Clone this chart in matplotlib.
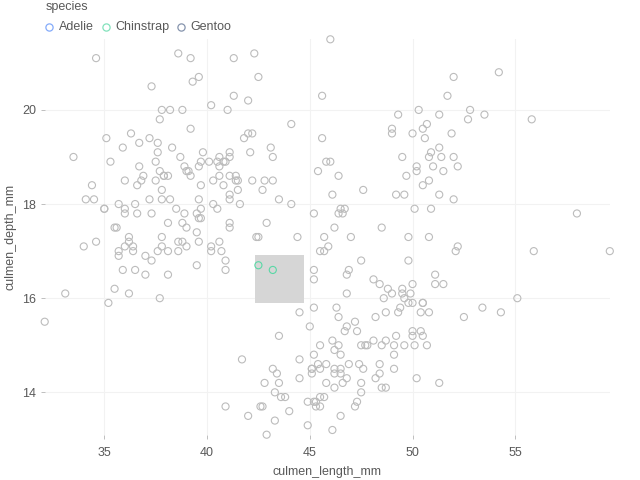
import matplotlib
matplotlib.use("Agg")
from matplotlib import pyplot as plt
from matplotlib.lines import Line2D
from matplotlib.patches import Rectangle

# culmen length / depth per species (penguins)
adelie_length = [39.1, 39.5, 40.3, 36.7, 39.3, 38.9, 39.2, 34.1, 42.0, 37.8, 37.8, 41.1, 38.6, 34.6, 36.6,
                 38.7, 42.5, 34.4, 46.0, 37.8, 37.7, 35.9, 38.2, 38.8, 35.3, 40.6, 40.5, 37.9, 40.5, 39.5,
                 37.2, 39.5, 40.9, 36.4, 39.2, 38.8, 42.2, 37.6, 39.8, 36.5, 40.8, 36.0, 44.1, 37.0, 39.6,
                 41.1, 37.5, 36.0, 42.3, 39.6, 40.1, 35.0, 42.0, 34.5, 41.4, 39.0, 40.6, 36.5, 37.6, 35.7,
                 41.3, 37.6, 41.1, 36.4, 41.6, 35.5, 41.1, 35.9, 41.8, 33.5, 39.7, 39.6, 45.8, 35.5, 42.8,
                 40.9, 37.2, 36.2, 42.1, 34.6, 42.9, 36.7, 35.1, 37.3, 41.3, 36.3, 36.9, 38.3, 38.9, 35.7,
                 41.1, 34.0, 39.6, 36.2, 40.8, 38.1, 40.3, 33.1, 43.2, 35.0, 41.0, 37.7, 37.8, 37.9, 39.7,
                 38.6, 38.2, 38.1, 43.2, 38.1, 45.6, 39.7, 42.2, 39.6, 42.7, 38.6, 37.3, 35.7, 41.1, 36.2,
                 37.7, 40.2, 41.4, 35.2, 40.6, 38.8, 41.5, 39.0, 44.1, 38.5, 43.1, 36.8, 37.5, 38.1, 41.1,
                 35.6, 40.2, 37.0, 39.7, 40.2, 40.6, 32.1, 40.7, 37.3, 39.0, 39.2, 36.6, 36.0, 37.8, 36.0,
                 41.5]
adelie_depth = [18.7, 17.4, 18.0, 19.3, 20.6, 17.8, 19.6, 18.1, 20.2, 17.1, 17.3, 17.6, 21.2, 21.1, 17.8,
                19.0, 20.7, 18.4, 21.5, 18.3, 18.7, 19.2, 18.1, 17.2, 18.9, 18.6, 17.9, 18.6, 18.9, 16.7,
                18.1, 17.8, 18.9, 17.0, 21.1, 20.0, 18.5, 19.3, 19.1, 18.0, 18.4, 18.5, 19.7, 16.9, 18.8,
                19.0, 18.9, 17.9, 21.2, 17.7, 18.9, 17.9, 19.5, 18.1, 18.6, 17.5, 18.8, 16.6, 19.1, 16.9,
                21.1, 17.0, 18.2, 17.1, 18.0, 16.2, 19.1, 16.6, 19.4, 19.0, 18.4, 17.2, 18.9, 17.5, 18.5,
                16.8, 19.4, 16.1, 19.1, 17.2, 17.6, 18.8, 19.4, 17.8, 20.3, 19.5, 18.6, 19.2, 18.8, 18.0,
                18.1, 17.1, 18.1, 17.3, 18.9, 18.6, 18.5, 16.1, 18.5, 17.9, 20.0, 16.0, 20.0, 18.6, 18.9,
                17.2, 20.0, 17.0, 19.0, 16.5, 20.3, 17.7, 19.5, 20.7, 18.3, 17.0, 20.5, 17.0, 18.6, 17.2,
                19.8, 17.0, 18.5, 15.9, 19.0, 17.6, 18.3, 17.1, 18.0, 17.9, 19.2, 18.5, 18.5, 17.6, 17.5,
                17.5, 20.1, 16.5, 17.9, 17.1, 17.2, 15.5, 17.0, 16.8, 18.7, 18.6, 18.4, 17.8, 18.1, 17.1,
                18.5]

chinstrap_length = [46.5, 50.0, 51.3, 45.4, 52.7, 45.2, 46.1, 51.3, 46.0, 51.3, 46.6, 51.7, 47.0, 52.0,
                    45.9, 50.5, 50.3, 58.0, 46.4, 49.2, 42.4, 48.5, 43.2, 50.6, 46.7, 52.0, 50.5, 49.5,
                    46.4, 52.8, 40.9, 54.2, 42.5, 51.0, 49.7, 47.5, 47.6, 52.0, 46.9, 53.5, 49.0, 46.2,
                    50.9, 45.5, 50.9, 50.8, 50.1, 49.0, 51.5, 49.8, 48.1, 51.4, 45.7, 50.7, 42.5, 52.2,
                    45.2, 49.3, 50.2, 45.6, 51.9, 46.8, 45.7, 55.8, 43.5, 49.6, 50.8, 50.2]
chinstrap_depth = [17.9, 19.5, 19.2, 18.7, 19.8, 17.8, 18.2, 18.2, 18.9, 19.9, 17.8, 20.3, 17.3, 18.1,
                   17.1, 19.6, 20.0, 17.8, 18.6, 18.2, 17.3, 17.5, 16.6, 19.4, 17.9, 19.0, 18.4, 19.0,
                   17.8, 20.0, 16.6, 20.8, 16.7, 18.8, 18.6, 16.8, 18.3, 20.7, 16.6, 19.9, 19.5, 17.5,
                   19.1, 17.0, 17.9, 18.5, 17.9, 19.6, 18.7, 17.3, 16.4, 19.0, 17.3, 19.7, 17.3, 18.8,
                   16.6, 19.9, 18.8, 19.4, 19.5, 16.5, 17.0, 19.8, 18.1, 18.2, 19.0, 18.7]

gentoo_length = [46.1, 50.0, 48.7, 50.0, 47.6, 46.5, 45.4, 46.7, 43.3, 46.8, 40.9, 49.0, 45.5, 48.4, 45.8,
                 49.3, 42.0, 49.2, 46.2, 48.7, 50.2, 45.1, 46.5, 46.3, 42.9, 46.1, 44.5, 47.8, 48.2, 50.0,
                 47.3, 42.8, 45.1, 59.6, 49.1, 48.4, 42.6, 44.4, 44.0, 48.7, 42.7, 49.6, 45.3, 49.6, 50.5,
                 43.6, 45.5, 50.5, 44.9, 45.2, 46.6, 48.5, 45.1, 50.1, 46.5, 45.0, 43.8, 45.5, 43.2, 50.4,
                 45.3, 46.2, 45.7, 54.3, 45.8, 49.8, 46.2, 49.5, 43.5, 50.7, 47.7, 46.4, 48.2, 46.5, 46.4,
                 48.6, 47.5, 51.1, 45.2, 45.2, 49.1, 52.5, 47.4, 50.0, 44.9, 50.8, 43.4, 51.3, 47.5, 52.1,
                 47.5, 52.2, 45.5, 49.5, 44.5, 50.8, 49.4, 46.9, 48.4, 51.1, 48.5, 55.9, 47.2, 49.1, 47.3,
                 46.8, 41.7, 53.4, 43.3, 48.1, 50.5, 49.8, 43.5, 51.5, 46.2, 55.1, 44.5, 48.8, 47.2, 46.8,
                 50.4, 45.2, 49.9]
gentoo_depth = [13.2, 16.3, 14.1, 15.2, 14.5, 13.5, 14.6, 15.3, 13.4, 15.4, 13.7, 16.1, 13.7, 14.6, 14.6,
                15.7, 13.5, 15.2, 14.5, 15.1, 14.3, 14.5, 14.5, 15.8, 13.1, 15.1, 14.3, 15.0, 14.3, 15.3,
                15.3, 14.2, 14.5, 17.0, 14.8, 16.3, 13.7, 17.3, 13.6, 15.7, 13.7, 16.0, 13.7, 15.0, 15.9,
                13.9, 13.9, 15.9, 13.3, 15.8, 14.2, 14.1, 14.4, 15.0, 14.4, 15.4, 13.9, 15.0, 14.5, 15.3,
                13.8, 14.9, 13.9, 15.7, 14.2, 16.8, 14.4, 16.2, 14.2, 15.0, 15.0, 15.6, 15.6, 14.8, 15.0,
                16.0, 14.2, 16.3, 13.8, 16.4, 14.5, 15.6, 14.6, 15.9, 13.8, 17.3, 14.4, 14.2, 14.0, 17.0,
                15.0, 17.1, 14.5, 16.1, 14.7, 15.7, 15.8, 14.6, 14.4, 16.5, 15.0, 17.0, 15.5, 15.0, 13.8,
                16.1, 14.7, 15.8, 14.0, 15.1, 15.2, 15.9, 15.2, 16.3, 14.1, 16.0, 15.7, 16.2, 13.7, 14.3,
                15.7, 14.8, 16.1]

species = ['Adelie', 'Chinstrap', 'Gentoo']
colors = ['#5B8FF9', '#5AD8A6', '#5D7092']
series = [(adelie_length, adelie_depth), (chinstrap_length, chinstrap_depth), (gentoo_length, gentoo_depth)]

# brushed region (x0, x1, y0, y1)
brush = (42.33, 44.70, 15.89, 16.92)

x_ticks = [35, 40, 45, 50, 55]
y_ticks = [14, 16, 18, 20]

plt.rcParams['font.family'] = ['Liberation Sans', 'DejaVu Sans']
text_color = '#595959'
gray = '#bcbcbc'

fig = plt.figure(figsize=(6.4, 4.8), dpi=100)
ax = fig.add_axes([44.7 / 640, 45.3 / 480, 565.1 / 640, 395.4 / 480])

all_x = adelie_length + chinstrap_length + gentoo_length
all_y = adelie_depth + chinstrap_depth + gentoo_depth
ax.set_xlim(min(all_x), max(all_x))
ax.set_ylim(min(all_y), max(all_y))

bx0, bx1, by0, by1 = brush
ax.add_patch(Rectangle((bx0, by0), bx1 - bx0, by1 - by0, facecolor='#d6d6d6', edgecolor='none', zorder=1))

for (xs, ys), c in zip(series, colors):
    inside = [(x, y) for x, y in zip(xs, ys) if bx0 <= x <= bx1 and by0 <= y <= by1]
    outside = [(x, y) for x, y in zip(xs, ys) if not (bx0 <= x <= bx1 and by0 <= y <= by1)]
    if outside:
        ax.scatter([p[0] for p in outside], [p[1] for p in outside], s=26, facecolors='none',
                   edgecolors=gray, linewidths=0.8, clip_on=False, zorder=2)
    if inside:
        ax.scatter([p[0] for p in inside], [p[1] for p in inside], s=26, facecolors='none',
                   edgecolors=c, linewidths=0.8, clip_on=False, zorder=3)

ax.set_xticks(x_ticks)
ax.set_yticks(y_ticks)
ax.grid(True, color='#f2f2f2', linewidth=0.8, zorder=0)
ax.set_axisbelow(True)
for s in ax.spines.values():
    s.set_visible(False)
ax.tick_params(colors='#bfbfbf', labelcolor=text_color, labelsize=9, length=3, width=0.7)
ax.tick_params(axis='x', pad=6)
ax.tick_params(axis='y', pad=3)
ax.set_xlabel('culmen_length_mm', color=text_color, fontsize=9, labelpad=5)
ax.set_ylabel('culmen_depth_mm', color=text_color, fontsize=9, labelpad=4)

# legend
fig.text(45.5 / 640, 1 - 7 / 480, 'species', color=text_color, fontsize=9, va='center', ha='left')
legend_x = [48.7, 105.7, 180.7]
for lx, name, c in zip(legend_x, species, colors):
    fig.add_artist(Line2D([lx / 640], [1 - 27.3 / 480], marker='o', markersize=5.2, markerfacecolor='none',
                          markeredgecolor=c, markeredgewidth=0.9, alpha=0.75, linestyle='none',
                          transform=fig.transFigure))
    fig.text((lx + 10) / 640, 1 - 27.3 / 480, name, color=text_color, fontsize=9, va='center', ha='left')

fig.savefig('out.png', dpi=100)
